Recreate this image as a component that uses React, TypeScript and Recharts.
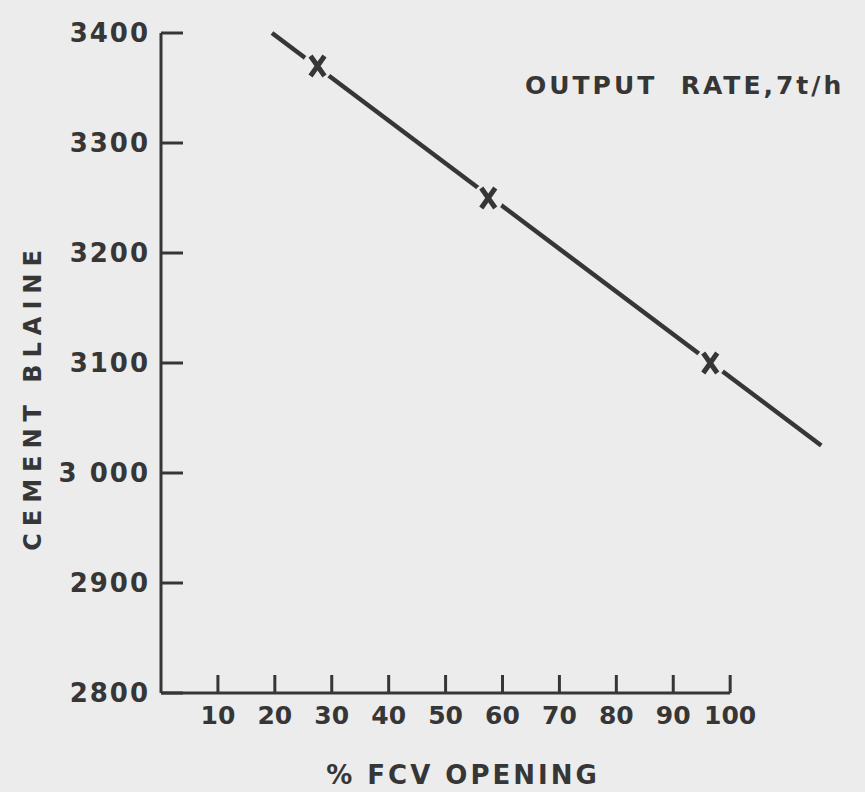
import { ComposedChart, Line, Scatter, XAxis, YAxis, ReferenceLine } from 'recharts';

// #region Sample data
const lineX = [19.5, 116];
const lineY = [3400, 3025];
const markerX = [27.5, 57.5, 96.5];
const markerY = [3370, 3250, 3100];
const xTicks = [10, 20, 30, 40, 50, 60, 70, 80, 90, 100];
const yTicks = [2800, 2900, 3000, 3100, 3200, 3300, 3400];
const yTickLabels = ['2800', '2900', '3 000', '3100', '3200', '3300', '3400'];
// #endregion

const lineData = lineX.map((x, i) => ({ x, y: lineY[i] }));
const markerData = markerX.map((x, i) => ({ x, y: markerY[i] }));

const BG = '#ececec';
const INK = '#363636';
const FONT = 'DejaVu Sans';

const CrossMark = (props: any) => {
  const { cx, cy } = props;
  return (
    <g>
      <circle cx={cx} cy={cy} r={15} fill={BG} />
      <path
        d={`M${cx - 7},${cy - 10} L${cx + 7},${cy + 10} M${cx + 7},${cy - 10} L${cx - 7},${cy + 10}`}
        stroke={INK}
        strokeWidth={5}
      />
    </g>
  );
};

const textStyle = {
  position: 'absolute' as const,
  color: INK,
  fontFamily: FONT,
  fontWeight: 'bold' as const,
  whiteSpace: 'nowrap' as const,
};

const App = () => {
  return (
    <div style={{ position: 'absolute', left: 0, top: 0, width: 865, height: 792, background: BG, overflow: 'hidden' }}>
      <ComposedChart
        width={865}
        height={792}
        margin={{ top: 33, right: 21, left: 81, bottom: 39 }}
      >
        <XAxis
          type="number"
          dataKey="x"
          domain={[0, 120]}
          ticks={xTicks}
          axisLine={false}
          tickSize={-18}
          tickMargin={31}
          tickLine={{ stroke: INK, strokeWidth: 3 }}
          tick={{ fill: INK, fontSize: 25, fontWeight: 'bold', fontFamily: FONT }}
          height={60}
        />
        <YAxis
          type="number"
          dataKey="y"
          domain={[2800, 3400]}
          ticks={yTicks}
          tickFormatter={(v: number) => yTickLabels[yTicks.indexOf(v)]}
          axisLine={{ stroke: INK, strokeWidth: 3 }}
          tickSize={-22}
          tickMargin={33}
          tickLine={{ stroke: INK, strokeWidth: 3 }}
          tick={{ fill: INK, fontSize: 26, fontWeight: 'bold', fontFamily: FONT, letterSpacing: 2 }}
          width={80}
        />
        <ReferenceLine
          segment={[{ x: 0, y: 2800 }, { x: 100, y: 2800 }]}
          stroke={INK}
          strokeWidth={3}
        />
        <Line
          data={lineData}
          dataKey="y"
          stroke={INK}
          strokeWidth={4.5}
          dot={false}
          isAnimationActive={false}
        />
        <Scatter
          data={markerData}
          dataKey="y"
          shape={CrossMark}
          isAnimationActive={false}
        />
      </ComposedChart>
      <div style={{ ...textStyle, left: 525, top: 71, fontSize: 25, letterSpacing: 3 }}>
        OUTPUT&nbsp;&nbsp;RATE,7t/h
      </div>
      <div
        style={{
          ...textStyle,
          left: 33,
          top: 397,
          fontSize: 24,
          letterSpacing: 7,
          transform: 'translate(-50%, -50%) rotate(-90deg)',
        }}
      >
        CEMENT BLAINE
      </div>
      <div style={{ ...textStyle, left: 463, top: 775, fontSize: 26, letterSpacing: 3, transform: 'translate(-50%, -50%)' }}>
        % FCV OPENING
      </div>
    </div>
  );
};

export default App;
